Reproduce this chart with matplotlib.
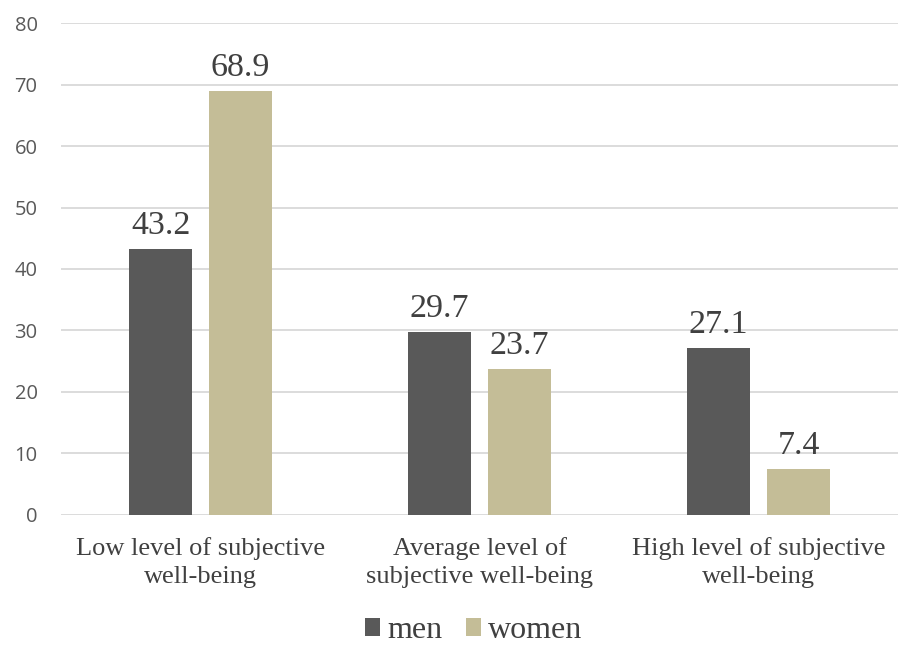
import numpy as np
import matplotlib.pyplot as plt

categories = ["Low level of subjective\nwell-being",
              "Average level of\nsubjective well-being",
              "High level of subjective\nwell-being"]
men = [43.2, 29.7, 27.1]
women = [68.9, 23.7, 7.4]

serif = ["Liberation Serif", "DejaVu Serif"]
sans = ["Open Sans", "DejaVu Sans"]

fig = plt.figure(figsize=(8.99, 6.45), dpi=100)
ax = fig.add_axes([0.068, 0.2016, 0.931, 0.7627])

x = np.arange(len(categories))
w = 0.226
b1 = ax.bar(x - 0.143, men, w, color="#595959", label="men", zorder=3)
b2 = ax.bar(x + 0.143, women, w, color="#C4BD97", label="women", zorder=3)

for bars in (b1, b2):
    for r in bars:
        ax.annotate(f"{r.get_height():.1f}", (r.get_x() + r.get_width() / 2, r.get_height()),
                    xytext=(0, 6), textcoords="offset points", ha="center", va="bottom",
                    fontsize=24.5, family=serif, color="#404040")

ax.set_xlim(-0.5, 2.5)
ax.set_ylim(0, 80)
ax.set_yticks(range(0, 81, 10))
ax.set_yticklabels([str(v) for v in range(0, 81, 10)], family=sans, fontsize=14.5, color="#595959")
ax.set_xticks(x)
ax.set_xticklabels(categories, family=serif, fontsize=19, color="#404040", linespacing=1.35)
ax.tick_params(axis="both", length=0)
ax.tick_params(axis="y", pad=17)
ax.tick_params(axis="x", pad=16)
ax.yaxis.grid(True, color="#D9D9D9", linewidth=1.3, zorder=0)
for s in ax.spines.values():
    s.set_visible(False)

fig.legend(handles=[b1, b2], labels=["men", "women"], loc="lower center",
           bbox_to_anchor=(0.527, -0.045), ncol=2, frameon=False,
           prop={"family": serif, "size": 23}, handlelength=0.47, handleheight=0.47,
           handletextpad=0.22, columnspacing=0.75, labelcolor="#404040")

fig.savefig("out.png", dpi=100)
